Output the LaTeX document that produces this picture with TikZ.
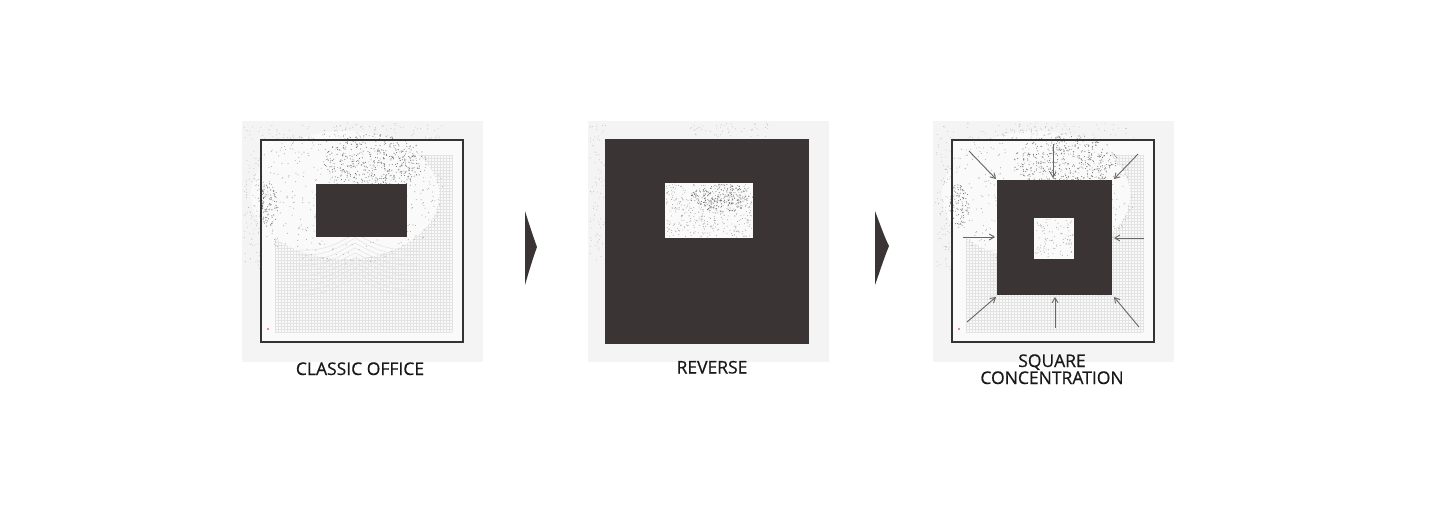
\documentclass[tikz,border=0pt]{standalone}
\usepackage{fontspec}
\setmainfont{Open Sans}
\newfontfamily\capfont{Open Sans}[FakeBold=0.6]
\usetikzlibrary{arrows.meta}
\definecolor{panelbg}{HTML}{F4F4F4}
\definecolor{innerbg}{HTML}{FAFAFA}
\definecolor{dark}{HTML}{3A3534}
\definecolor{dotc}{HTML}{3C3838}
\definecolor{gridc}{HTML}{E3E3E3}
\definecolor{framec}{HTML}{333333}
\definecolor{arrowc}{HTML}{6A6666}
\definecolor{contourc}{HTML}{E2E2E2}
\definecolor{reddot}{HTML}{C03030}
\tikzset{
  panel/.style={fill=panelbg, draw=none},
  frameline/.style={draw=framec, line width=1.4pt},
  block/.style={fill=dark, draw=none, inner sep=0, outer sep=0},
  gridl/.style={draw=gridc, line width=0.35pt},
  contour/.style={draw=contourc, line width=0.5pt},
  pushar/.style={draw=arrowc, line width=0.9pt, -{Straight Barb[length=5pt,width=6pt]}},
  caption/.style={font=\capfont\fontsize{17.5}{19}\selectfont, text=black!90, anchor=base, inner sep=0},
  chevron/.style={fill=dark, draw=none},
}
\newcommand\cloudpts[6]{% cx cy rx ry n shade
  \foreach \i in {1,...,#5}{%
    \pgfmathsetmacro\ang{360*rnd}%
    \pgfmathsetmacro\rr{sqrt(rnd)}%
    \fill[dotc!#6!white] ({#1+#3*\rr*cos(\ang)},{#2+#4*\rr*sin(\ang)}) circle (0.55);
  }}
\newcommand\cloudflat[6]{% uniform box: x0 y0 w h n shade
  \foreach \i in {1,...,#5}{%
    \fill[dotc!#6!white] ({#1+#3*rnd},{#2+#4*rnd}) circle (0.5);
  }}
\newcommand\officebase{%
  \fill[panel] (242,121) rectangle (483,362);
  \fill[innerbg] (261,140) rectangle (463,342);
  \foreach \g in {0,3,...,177}{
    \draw[gridl] (275+\g,155) -- (275+\g,332);
    \draw[gridl] (275,155+\g) -- (452,155+\g);
  }
  \fill[innerbg] (345,195) ellipse [x radius=94, y radius=64];
  \foreach \k in {0,...,9}{
    \draw[contour] (298,250+5*\k) .. controls (328,252+5*\k) and (343,240+4.5*\k) .. (355,233+5*\k)
      .. controls (367,240+4.5*\k) and (385,252+5*\k) .. (418,250+5*\k);
  }
  \cloudflat{244}{123}{200}{16}{90}{30}
  \cloudflat{244}{140}{16}{130}{70}{30}
  \cloudpts{345}{195}{100}{70}{500}{40}
  \cloudpts{375}{162}{52}{28}{420}{70}
  \cloudpts{268}{205}{10}{22}{90}{70}
  \fill[reddot] (268,329) circle (0.9);
  \draw[frameline] (261,140) rectangle (463,342);
}
\begin{document}
\begin{tikzpicture}[x=1pt,y=-1pt]
\pgfmathsetseed{1437}
\useasboundingbox (0,0) rectangle (1437,504);
\fill[white] (0,0) rectangle (1437,504);

% ---------- panel 1: classic office
\begin{scope}
  \officebase
  \fill[block] (316,184) rectangle (407,237);
\end{scope}
\node[caption] (lab1) at (360,375) {CLASSIC OFFICE};

% ---------- chevrons
\fill[chevron] (525,211) .. controls (529,224) and (533,236) .. (537,247)
   .. controls (533,258) and (529,271) .. (525,285) -- cycle;
\fill[chevron] (875,211) .. controls (880,224) and (884,236) .. (889,246)
   .. controls (884,258) and (880,271) .. (875,285) -- cycle;

% ---------- panel 2: reverse
\fill[panel] (588,121) rectangle (829,362);
\cloudflat{590}{123}{16}{140}{90}{30}
\cloudflat{690}{123}{80}{14}{50}{30}
\fill[block] (605,139) rectangle (809,344);
\fill[innerbg] (665,183) rectangle (753,238);
\cloudflat{666}{184}{86}{53}{420}{45}
\cloudpts{722}{198}{32}{14}{220}{70}
\node[caption] (lab2) at (712,373.5) {REVERSE};

% ---------- panel 3: square concentration
\begin{scope}[shift={(691,0)}]
  \officebase
  \fill[block] (306,180) rectangle (421,295);
  \fill[innerbg] (343,218) rectangle (383,259);
  \cloudflat{344}{219}{38}{39}{100}{45}
\end{scope}
\coordinate (a1) at (969,151);  \coordinate (b1) at (996,179);
\coordinate (a2) at (1053,144); \coordinate (b2) at (1053,178);
\coordinate (a3) at (1138,154); \coordinate (b3) at (1114,179);
\coordinate (a4) at (963,237);  \coordinate (b4) at (995,237);
\coordinate (a5) at (1144,238); \coordinate (b5) at (1114,238);
\coordinate (a6) at (967,322);  \coordinate (b6) at (996,297);
\coordinate (a7) at (1055,328); \coordinate (b7) at (1055,297);
\coordinate (a8) at (1139,327); \coordinate (b8) at (1114,297);
\foreach \n in {1,...,8}{\draw[pushar] (a\n) -- (b\n);}
\node[caption] (lab3a) at (1052,367) {SQUARE};
\node[caption] (lab3b) at (1052,384) {CONCENTRATION};
\end{tikzpicture}
\end{document}
